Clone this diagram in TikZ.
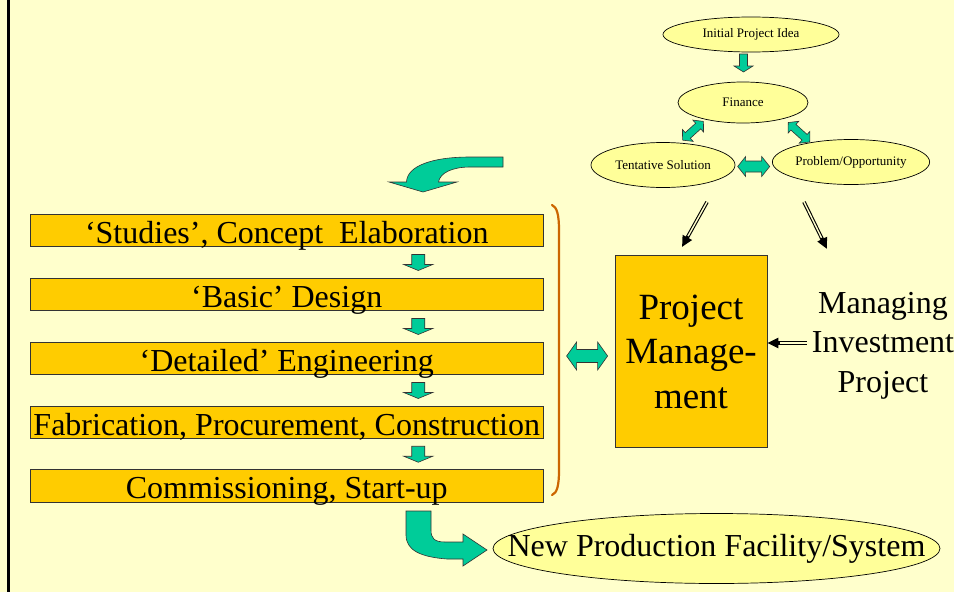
\documentclass[tikz,border=0pt]{standalone}
\usepackage{fontspec}
\setmainfont{Liberation Serif}
\usetikzlibrary{arrows.meta,calc,shapes.geometric}

\definecolor{paper}{HTML}{FFFFCC}
\definecolor{stage}{HTML}{FFCC00}
\definecolor{bubble}{HTML}{FFFF99}
\definecolor{flow}{HTML}{00CC99}
\definecolor{bracecol}{HTML}{CC6600}

\tikzset{
  stagebox/.style={draw=black!80, fill=stage, line width=0.8pt,
    minimum width=512.5pt, inner xsep=0pt, inner ysep=0pt,
    text height=29pt, text depth=3.5pt, font=\fontsize{32}{38}\selectfont},
  bubblenode/.style={ellipse, draw=black, fill=bubble, line width=0.7pt,
    inner sep=0pt, font=\fontsize{13}{15}\selectfont},
  flowarrow/.style={fill=flow, draw=black!80, line width=0.6pt, line join=miter},
  dbl/.style={line width=3.6pt, -{Triangle[length=11pt,width=10pt]}},
  dblgap/.style={line width=1.4pt, draw=paper, shorten >=12.5pt},
  % block arrow pointing along +x: length / shaft half width / head half width / head length
  pics/fwd/.style args={#1/#2/#3/#4}{code={
    \filldraw[flowarrow] ({-#1/2},{-#2}) -- ({#1/2-#4},{-#2}) -- ({#1/2-#4},{-#3})
      -- ({#1/2},0) -- ({#1/2-#4},{#3}) -- ({#1/2-#4},{#2}) -- ({-#1/2},{#2}) -- cycle;
  }},
  % block arrow with heads at both ends
  pics/both/.style args={#1/#2/#3/#4}{code={
    \filldraw[flowarrow] ({-#1/2},0) -- ({-#1/2+#4},{-#3}) -- ({-#1/2+#4},{-#2})
      -- ({#1/2-#4},{-#2}) -- ({#1/2-#4},{-#3}) -- ({#1/2},0) -- ({#1/2-#4},{#3})
      -- ({#1/2-#4},{#2}) -- ({-#1/2+#4},{#2}) -- ({-#1/2+#4},{#3}) -- cycle;
  }},
}

\begin{document}
\begin{tikzpicture}[x=1pt, y=-1pt]
  \useasboundingbox (0,0) rectangle (954,592);
  \fill[paper] (0,0) rectangle (954,592);
  \draw[line width=2.6pt] (8.7,0) -- (8.7,592);

  % project stages
  \node[stagebox] (b1) at (286.75,230.5) {`Studies', Concept\ \ Elaboration};
  \node[stagebox] (b2) at (286.75,294.5) {`Basic' Design};
  \node[stagebox] (b3) at (286.75,358.5) {`Detailed' Engineering};
  \node[stagebox] (b4) at (286.75,422.5) {Fabrication, Procurement, Construction};
  \node[stagebox] (b5) at (286.75,486) {Commissioning, Start-up};

  \pic[rotate=-90] at ($(b1.south)!0.5!(b2.north)+(131.5,0)$) {fwd={16/6.5/14.5/6}};
  \pic[rotate=-90] at ($(b2.south)!0.5!(b3.north)+(131.5,0)$) {fwd={16/6.5/14.5/6}};
  \pic[rotate=-90] at ($(b3.south)!0.5!(b4.north)+(131.5,0)$) {fwd={16/6.5/14.5/6}};
  \pic[rotate=-90] at ($(b4.south)!0.5!(b5.north)+(131.5,0)$) {fwd={16/6.5/14.5/6}};

  % bracket grouping the stages
  \draw[bracecol, line width=2.2pt, line cap=round]
    (552,205) .. controls (557,207) and (559,215) .. (559,230) -- (559,470)
    .. controls (559,486) and (557,493) .. (552,495);

  % project management block
  \node[draw=black!80, fill=stage, line width=0.8pt, minimum width=152pt,
        minimum height=192pt, inner sep=0pt, align=center,
        font=\fontsize{37}{44.5}\selectfont] (pm) at (691,351.5) {Project\\Manage-\\ment};
  \pic at ($(pm.west)+(-27.5,4.5)$) {both={41/6.5/14/10}};

  \node[inner sep=0pt, align=center, font=\fontsize{32}{39.5}\selectfont]
    (mip) at (883,345.5) {Managing\\Investment\\Project};
  \coordinate (mipin) at ($(mip.west)+(-5,-2.5)$);
  \draw[dbl] (mipin) -- (mipin -| pm.east);
  \draw[dblgap] (mipin) -- (mipin -| pm.east);

  % idea cycle
  \node[bubblenode, minimum width=176pt, minimum height=35pt] (ipi) at (751,34.5) {Initial Project Idea};
  \node[bubblenode, minimum width=130pt, minimum height=41pt] (fin) at (743,102.5) {Finance};
  \node[bubblenode, minimum width=144pt, minimum height=45pt] (ts) at (663,165) {Tentative Solution};
  \node[bubblenode, minimum width=136pt, minimum height=45pt] (po) at (851,162) {Problem/Opportunity};

  \pic[rotate=-90] at ($(ipi.south)!0.5!(fin.north)+(-3.5,-4)$) {fwd={18/4/9.5/6}};
  \pic[rotate=42] at ($(fin)!0.5!(ts)+(-10,-3)$) {both={28/3.8/8/7}};
  \pic[rotate=-42] at ($(fin)!0.5!(po)+(2,0)$) {both={29/3.8/8/7}};
  \pic at ($(ts.east)!0.5!(po.west)+(0,3)$) {both={32/5.5/10/8}};

  \coordinate (tsdown) at (707,202);
  \coordinate (pmtop) at (682,247);
  \coordinate (podown) at (804,202);
  \coordinate (miptop) at (827,249);
  \draw[dbl] (tsdown) -- (pmtop);
  \draw[dblgap] (tsdown) -- (pmtop);
  \draw[dbl] (podown) -- (miptop);
  \draw[dblgap] (podown) -- (miptop);

  % curved arrow entering the stage list
  \filldraw[flowarrow] (503,157) -- (470,157) .. controls (432,157) and (407,166) .. (406.5,182)
    -- (389,182) -- (423,192) -- (457,182) -- (438.5,182)
    .. controls (440,173) and (452,167) .. (470,167) -- (503,167) -- cycle;

  % outcome
  \node[ellipse, draw=black, fill=bubble, line width=0.7pt, inner sep=0pt,
        minimum width=447pt, minimum height=70pt,
        label={[font=\fontsize{32}{38}\selectfont, inner sep=0pt]center:New Production Facility/System}]
        (npf) at (716.5,548.5) {};

  \filldraw[flowarrow] (406,511) -- (431,511) -- (431,530)
    .. controls (431,538) and (434,542) .. (445,542) -- (463,542) -- (463,534)
    -- (487,550) -- (463,566) -- (463,559) -- (447,559)
    .. controls (420,557) and (406,550) .. (406,535) -- cycle;
\end{tikzpicture}
\end{document}
